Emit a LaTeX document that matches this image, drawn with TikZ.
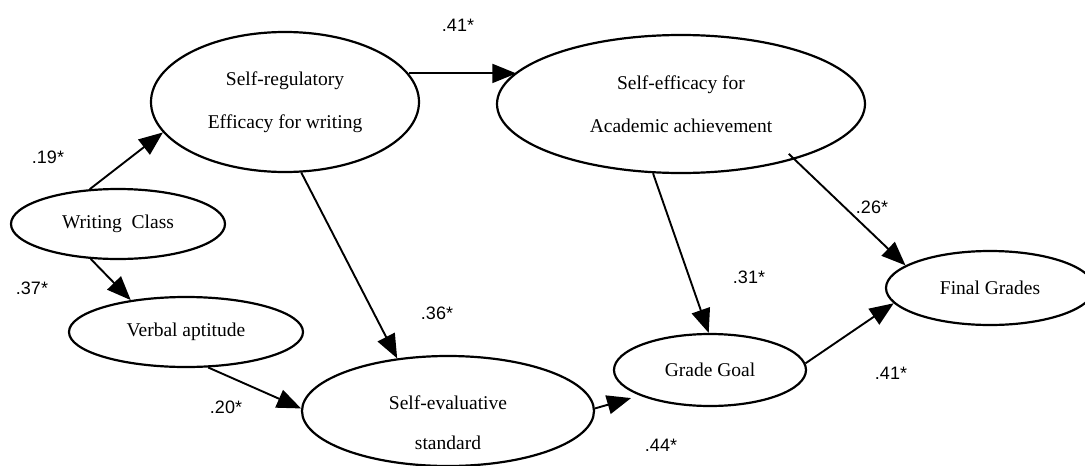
\documentclass[tikz,border=0pt]{standalone}
\usepackage{fontspec}
\setmainfont{Liberation Serif}
\newfontfamily\labfont{Liberation Sans}
\usetikzlibrary{shapes.geometric,arrows.meta}
\begin{document}
\begin{tikzpicture}[x=1pt,y=-1pt,
  var/.style={draw, ellipse, line width=2.2pt, inner sep=0pt, align=center,
    font=\fontsize{19.5}{43}\selectfont},
  txt/.style={inner sep=0pt, align=center, font=\fontsize{19.5}{40}\selectfont},
  pathline/.style={line width=1.9pt, -{Triangle[length=24pt,width=19pt]}},
  coef/.style={font=\labfont\fontsize{18}{20}\selectfont, inner sep=0pt}]
\useasboundingbox (0,0) rectangle (1085,466);
\fill[white] (0,0) rectangle (1085,466);
\clip (0,0) rectangle (1085,466);

\node[var, minimum width=268pt, minimum height=140pt] (sr) at (285,102) {Self-regulatory\\Efficacy for writing};
\node[var, minimum width=368pt, minimum height=138pt] (se) at (681,104) {Self-efficacy for\\Academic achievement};
\node[var, minimum width=214pt, minimum height=70pt] (wc) at (118,224) {Writing~~Class};
\node[var, minimum width=234pt, minimum height=70pt] (va) at (186,332) {Verbal aptitude};
\node[var, minimum width=292pt, minimum height=110pt] (sev) at (448,411) {};
\node[txt] (sevt) at (448,423) {Self-evaluative\\standard};
\node[var, minimum width=192pt, minimum height=72pt] (gg) at (710,370) {Grade Goal};
\node[var, minimum width=208pt, minimum height=74pt] (fg) at (990,288) {Final Grades};

\draw[pathline] (wc.129.5) -- (sr.194);
\draw[pathline] (wc.232) -- (va.150.6);
\draw[pathline] (va.302) -- (sev.179);
\draw[pathline] (sr.283.7) -- (sev.134.4);
\draw[pathline] (sr.13.4) -- (sr.13.4 -| se.169.3);
\draw[pathline] (se.248.6) -- (gg.92);
\draw[pathline, shorten <=-8pt] (se.334.7) -- (fg.165.2);
\draw[pathline] (gg.4.8) -- (fg.189.1);
\draw[pathline, shorten >=9pt] (sev.1) -- (gg.200.6);

\node[coef] (c1) at (458,25) {.41*};
\node[coef] (c2) at (48,157) {.19*};
\node[coef] (c3) at (32,288) {.37*};
\node[coef] (c4) at (226,407) {.20*};
\node[coef] (c5) at (437,313) {.36*};
\node[coef] (c6) at (749,277) {.31*};
\node[coef] (c7) at (872,207) {.26*};
\node[coef] (c8) at (891,373) {.41*};
\node[coef] (c9) at (661,445) {.44*};
\end{tikzpicture}
\end{document}
